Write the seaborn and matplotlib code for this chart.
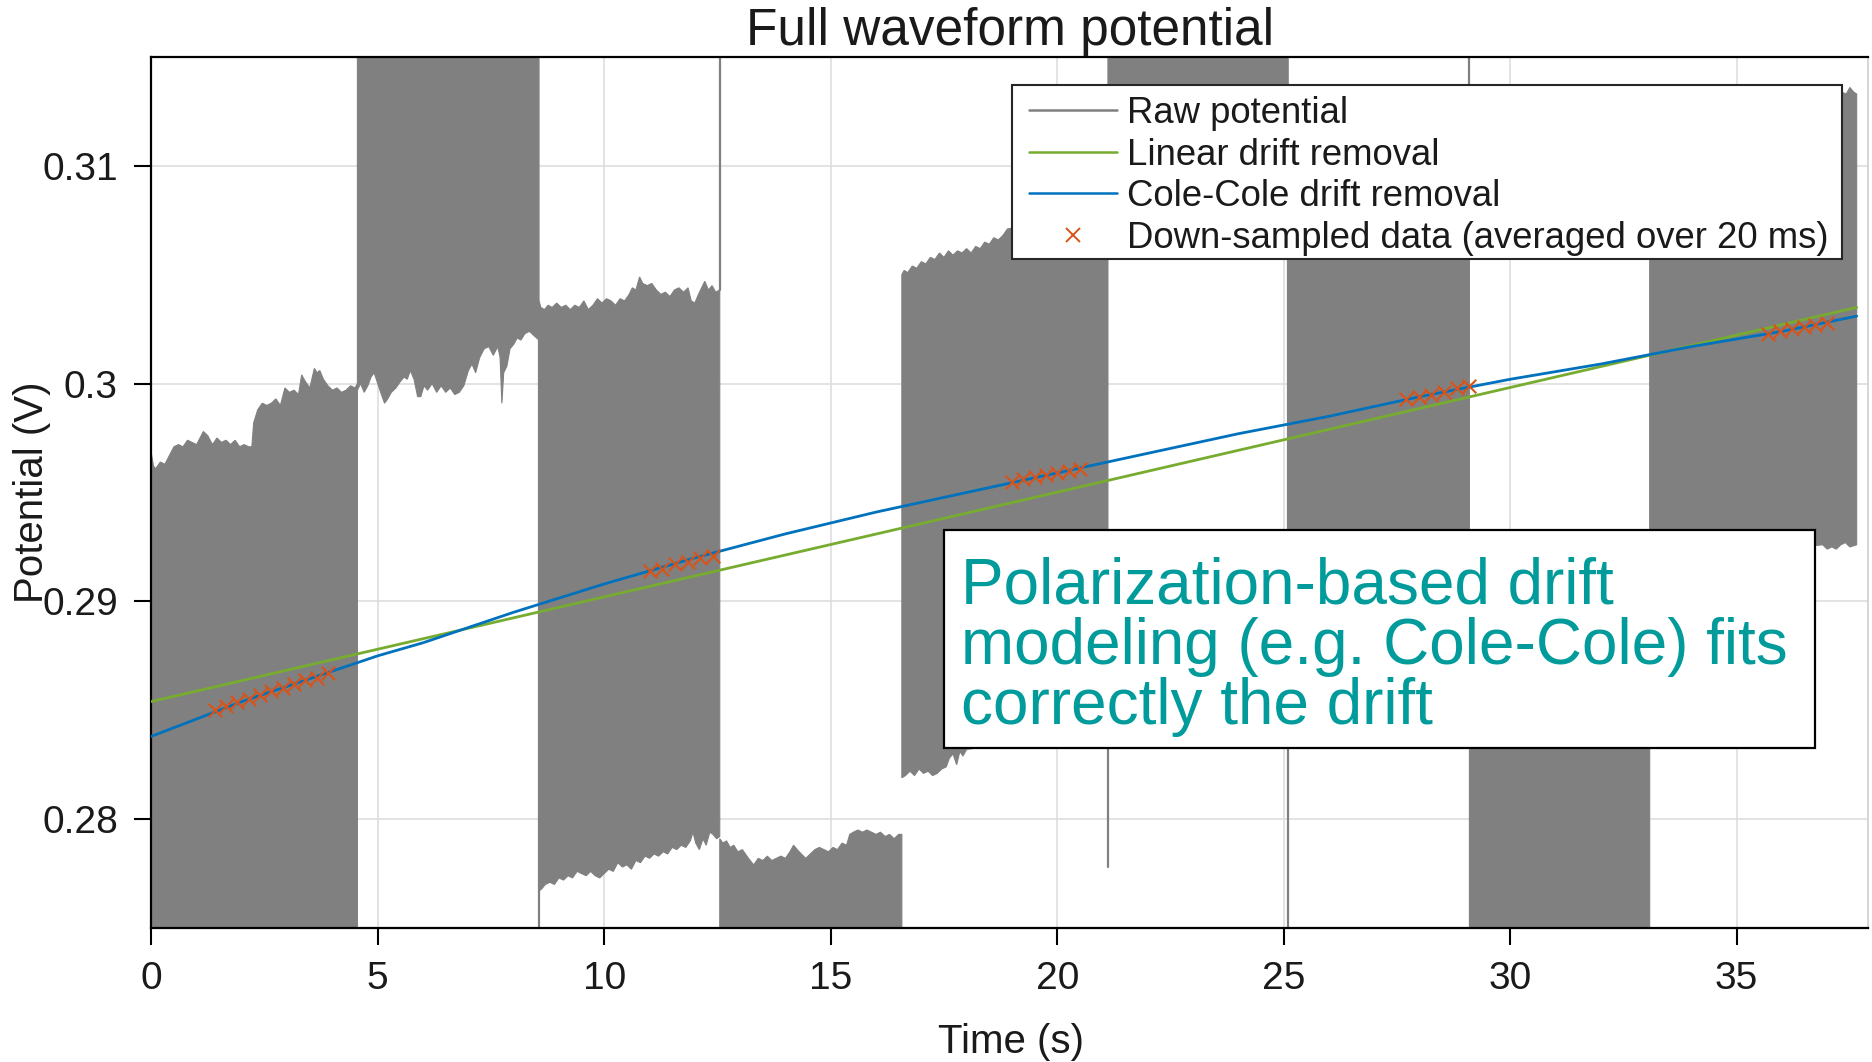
import numpy as np
import pandas as pd
import matplotlib
matplotlib.use("Agg")
import matplotlib.pyplot as plt
import seaborn as sns
from matplotlib.lines import Line2D
from matplotlib.patches import Rectangle

# ---------------- data ----------------
RAW_FLOOR = 0.27   # raw signal runs off the bottom of the scale
RAW_CEIL = 0.32    # raw signal runs off the top of the scale

# block A (0 - 4.55 s): from below the axis up to an envelope
rawA_t_hi = [0.00, 0.05, 0.10, 0.20, 0.30, 0.40, 0.50, 0.60, 0.70, 0.80, 0.90, 1.00, 1.10,
             1.15, 1.25, 1.35, 1.45, 1.55, 1.65, 1.75, 1.85, 1.95, 2.05, 2.15, 2.22, 2.26,
             2.35, 2.45, 2.55, 2.65, 2.75, 2.85, 2.95, 3.05, 3.15, 3.25, 3.32, 3.40, 3.50,
             3.60, 3.66, 3.72, 3.80, 3.90, 4.00, 4.10, 4.20, 4.30, 4.40, 4.50, 4.55]
rawA_hi = [0.2968, 0.2962, 0.2961, 0.2964, 0.2963, 0.2967, 0.2971, 0.2972, 0.2971, 0.2974,
           0.2973, 0.2972, 0.2976, 0.2978, 0.2976, 0.2972, 0.2975, 0.2973, 0.2974, 0.2972,
           0.2974, 0.2971, 0.2972, 0.2971, 0.2971, 0.2982, 0.2988, 0.2991, 0.2990, 0.2991,
           0.2993, 0.2990, 0.2998, 0.2996, 0.2997, 0.2995, 0.3004, 0.3001, 0.2998, 0.3007,
           0.3005, 0.3006, 0.3002, 0.2999, 0.2997, 0.2998, 0.2996, 0.2997, 0.2999, 0.2998,
           0.3000]
rawA_t_lo = [0.00, 4.55]
rawA_lo = [RAW_FLOOR, RAW_FLOOR]

# block B (4.55 - 8.56 s): from above the axis down to an envelope
rawB_t_hi = [4.55, 8.56]
rawB_hi = [RAW_CEIL, RAW_CEIL]
rawB_t_lo = [4.55, 4.62, 4.70, 4.78, 4.85, 4.92, 5.00, 5.08, 5.15, 5.22, 5.30, 5.40, 5.50,
             5.58, 5.65, 5.72, 5.80, 5.88, 5.95, 6.02, 6.10, 6.20, 6.30, 6.40, 6.50, 6.60,
             6.70, 6.80, 6.90, 7.00, 7.08, 7.16, 7.25, 7.35, 7.45, 7.55, 7.65, 7.70, 7.74,
             7.78, 7.85, 7.92, 8.00, 8.08, 8.16, 8.25, 8.35, 8.45, 8.56]
rawB_lo = [0.2997, 0.3000, 0.2996, 0.2999, 0.3003, 0.3005, 0.3000, 0.2995, 0.2991, 0.2993,
           0.2996, 0.2998, 0.3001, 0.3003, 0.3002, 0.3006, 0.3002, 0.2994, 0.2994, 0.2999,
           0.2997, 0.3000, 0.2996, 0.2999, 0.2996, 0.2998, 0.2995, 0.2996, 0.2999, 0.3006,
           0.3009, 0.3005, 0.3012, 0.3016, 0.3017, 0.3013, 0.3017, 0.3012, 0.2991, 0.3005,
           0.3008, 0.3016, 0.3018, 0.3021, 0.3020, 0.3023, 0.3024, 0.3022, 0.3020]

# block C (8.56 - 12.55 s): band
rawC_t_hi = [8.56, 8.60, 8.68, 8.76, 8.85, 8.95, 9.05, 9.15, 9.25, 9.35, 9.45, 9.55, 9.65,
             9.75, 9.85, 9.95, 10.05, 10.15, 10.25, 10.35, 10.45, 10.55, 10.62, 10.70, 10.78,
             10.85, 10.95, 11.05, 11.15, 11.25, 11.35, 11.45, 11.55, 11.65, 11.75, 11.85,
             11.92, 12.00, 12.08, 12.15, 12.22, 12.30, 12.38, 12.46, 12.55]
rawC_hi = [0.3038, 0.3035, 0.3034, 0.3036, 0.3035, 0.3037, 0.3035, 0.3036, 0.3034, 0.3036,
           0.3035, 0.3038, 0.3034, 0.3036, 0.3039, 0.3037, 0.3039, 0.3038, 0.3036, 0.3039,
           0.3038, 0.3041, 0.3044, 0.3043, 0.3049, 0.3046, 0.3045, 0.3046, 0.3043, 0.3041,
           0.3042, 0.3040, 0.3043, 0.3044, 0.3042, 0.3044, 0.3038, 0.3037, 0.3041, 0.3044,
           0.3047, 0.3043, 0.3045, 0.3042, 0.3043]
rawC_t_lo = [8.56, 8.62, 8.70, 8.80, 8.90, 9.00, 9.10, 9.20, 9.30, 9.40, 9.50, 9.60, 9.70,
             9.80, 9.90, 10.00, 10.10, 10.20, 10.30, 10.40, 10.50, 10.60, 10.70, 10.80, 10.90,
             11.00, 11.10, 11.20, 11.30, 11.40, 11.50, 11.60, 11.70, 11.80, 11.90, 11.96,
             12.02, 12.10, 12.18, 12.25, 12.33, 12.40, 12.48, 12.55]
rawC_lo = [0.2767, 0.2768, 0.2770, 0.2771, 0.2770, 0.2773, 0.2772, 0.2774, 0.2773, 0.2776,
           0.2775, 0.2774, 0.2776, 0.2774, 0.2773, 0.2775, 0.2777, 0.2776, 0.2780, 0.2778,
           0.2779, 0.2777, 0.2781, 0.2780, 0.2783, 0.2782, 0.2784, 0.2783, 0.2785, 0.2784,
           0.2787, 0.2786, 0.2788, 0.2787, 0.2790, 0.2794, 0.2789, 0.2786, 0.2791, 0.2788,
           0.2794, 0.2793, 0.2791, 0.2792]

# block D (12.55 - 16.57 s): from below the axis up to an envelope
rawD_t_hi = [12.55, 12.62, 12.70, 12.78, 12.86, 12.95, 13.05, 13.15, 13.22, 13.30, 13.40,
             13.50, 13.60, 13.70, 13.80, 13.90, 14.00, 14.10, 14.18, 14.26, 14.35, 14.45,
             14.55, 14.65, 14.75, 14.85, 14.95, 15.05, 15.15, 15.25, 15.35, 15.42, 15.50,
             15.60, 15.70, 15.80, 15.90, 16.00, 16.10, 16.20, 16.30, 16.40, 16.50, 16.57]
rawD_hi = [0.2791, 0.2789, 0.2790, 0.2787, 0.2788, 0.2785, 0.2786, 0.2783, 0.2781, 0.2779,
           0.2782, 0.2781, 0.2783, 0.2781, 0.2782, 0.2783, 0.2782, 0.2785, 0.2788, 0.2786,
           0.2784, 0.2782, 0.2784, 0.2786, 0.2787, 0.2786, 0.2785, 0.2787, 0.2786, 0.2789,
           0.2788, 0.2793, 0.2794, 0.2795, 0.2794, 0.2795, 0.2794, 0.2793, 0.2794, 0.2792,
           0.2793, 0.2791, 0.2793, 0.2793]
rawD_t_lo = [12.55, 16.57]
rawD_lo = [RAW_FLOOR, RAW_FLOOR]

# block E (16.57 - 21.12 s): band
rawE_t_hi = [16.57, 16.62, 16.70, 16.80, 16.90, 17.00, 17.10, 17.20, 17.30, 17.40, 17.50,
             17.60, 17.70, 17.80, 17.90, 18.00, 18.10, 18.20, 18.30, 18.40, 18.50, 18.60,
             18.70, 18.80, 18.90, 19.60, 20.30, 21.12]
rawE_hi = [0.3050, 0.3052, 0.3051, 0.3054, 0.3053, 0.3056, 0.3055, 0.3058, 0.3057, 0.3060,
           0.3058, 0.3061, 0.3059, 0.3061, 0.3060, 0.3062, 0.3060, 0.3063, 0.3062, 0.3065,
           0.3064, 0.3067, 0.3066, 0.3068, 0.3071, 0.3074, 0.3078, 0.3082]
rawE_t_lo = [16.57, 16.65, 16.75, 16.85, 16.95, 17.05, 17.15, 17.25, 17.35, 17.45, 17.55,
             17.62, 17.70, 17.78, 17.85, 17.92, 18.00, 19.00, 20.00, 21.12]
rawE_lo = [0.2819, 0.2820, 0.2822, 0.2820, 0.2823, 0.2821, 0.2822, 0.2820, 0.2821, 0.2823,
           0.2824, 0.2828, 0.2830, 0.2825, 0.2831, 0.2829, 0.2832, 0.2835, 0.2838, 0.2841]

# block F (21.12 - 25.10 s): from above the axis down to an envelope
rawF_t_hi = [21.12, 25.10]
rawF_hi = [RAW_CEIL, RAW_CEIL]
rawF_t_lo = [21.12, 25.10]
rawF_lo = [0.3085, 0.3095]

# block G (25.10 - 29.10 s): band
rawG_t_hi = [25.10, 29.10]
rawG_hi = [0.3105, 0.3115]
rawG_t_lo = [25.10, 29.10]
rawG_lo = [0.2875, 0.2885]

# block H (29.10 - 33.08 s): from below the axis up to an envelope
rawH_t_hi = [29.10, 33.08]
rawH_hi = [0.2890, 0.2900]
rawH_t_lo = [29.10, 33.08]
rawH_lo = [RAW_FLOOR, RAW_FLOOR]

# block I (33.08 - 37.65 s): band
rawI_t_hi = [33.08, 36.00, 37.30, 37.42, 37.50, 37.58, 37.65]
rawI_hi = [0.3128, 0.3132, 0.3134, 0.3133, 0.3136, 0.3134, 0.3133]
rawI_t_lo = [33.08, 36.00, 36.90, 37.00, 37.10, 37.20, 37.30, 37.40, 37.50, 37.65]
rawI_lo = [0.2925, 0.2924, 0.2926, 0.2924, 0.2925, 0.2924, 0.2926, 0.2927, 0.2925, 0.2926]

# switching spikes of the raw signal
spike_t = [8.56, 12.55, 21.12, 25.10, 29.10]
spike_lo = [RAW_FLOOR, 0.3043, 0.2778, RAW_FLOOR, 0.3110]
spike_hi = [0.3020, RAW_CEIL, 0.2841, 0.3095, RAW_CEIL]

# linear drift model
lin_t = [0.0, 37.65]
lin_v = [0.2854, 0.3035]

# Cole-Cole drift model
cc_t = [0, 1, 2, 3, 4, 5, 6, 7, 8, 10, 12, 14, 16, 18, 20, 22, 24, 26, 28, 30, 32, 34, 36, 37.65]
cc_v = [0.2838, 0.2846, 0.2854, 0.2861, 0.2868, 0.2875, 0.2881, 0.2888, 0.2895, 0.2908,
        0.2920, 0.2931, 0.2941, 0.2950, 0.2959, 0.2968, 0.2977, 0.2985, 0.2994, 0.3002,
        0.3009, 0.3017, 0.3024, 0.3031]

# down-sampled data
ds_t = [1.40, 1.65, 1.90, 2.15, 2.40, 2.65, 2.90, 3.15, 3.40, 3.65, 3.90,
        11.00, 11.28, 11.56, 11.84, 12.12, 12.40,
        19.00, 19.25, 19.50, 19.75, 20.00, 20.25, 20.50,
        27.70, 27.98, 28.26, 28.54, 28.82, 29.10,
        35.70, 35.96, 36.22, 36.48, 36.74, 37.00]
ds_v = [0.2850, 0.2852, 0.2854, 0.2855, 0.2857, 0.2859, 0.2860, 0.2862, 0.2864, 0.2865, 0.2867,
        0.2914, 0.2915, 0.2917, 0.2918, 0.2920, 0.2921,
        0.2955, 0.2956, 0.2957, 0.2958, 0.2959, 0.2960, 0.2961,
        0.2993, 0.2994, 0.2995, 0.2996, 0.2998, 0.2999,
        0.3023, 0.3024, 0.3025, 0.3026, 0.3027, 0.3028]

x_ticks = [0, 5, 10, 15, 20, 25, 30, 35]
y_ticks = [0.28, 0.29, 0.30, 0.31]
y_tick_labels = ["0.28", "0.29", "0.3", "0.31"]
legend_labels = ["Raw potential", "Linear drift removal", "Cole-Cole drift removal",
                 "Down-sampled data (averaged over 20 ms)"]
note_text = "Polarization-based drift\nmodeling (e.g. Cole-Cole) fits\ncorrectly the drift"

# ---------------- style ----------------
GRAY = "#808080"
GREEN = "#77AC30"
BLUE = "#0072BD"
ORANGE = "#D95319"
TEAL = "#009B9A"
TXT = "#1a1a1a"

sns.set_theme(style="white")
plt.rcParams["font.family"] = ["Liberation Sans", "DejaVu Sans"]

W, H = 1872, 1062
AX_L, AX_R, AX_T, AX_B = 151.3, 1868.0, 57.0, 928.0


def ax_x(px):
    return (px - AX_L) / (AX_R - AX_L)


def ax_y(py):
    return (AX_B - py) / (AX_B - AX_T)


fig = plt.figure(figsize=(W / 100, H / 100), dpi=100)
fig.patch.set_facecolor("white")
ax = fig.add_axes([AX_L / W, (H - AX_B) / H, (AX_R - AX_L) / W, (AX_B - AX_T) / H])
ax.set_facecolor("white")

# raw potential blocks
blocks = [
    (rawA_t_hi, rawA_hi, rawA_t_lo, rawA_lo),
    (rawB_t_hi, rawB_hi, rawB_t_lo, rawB_lo),
    (rawC_t_hi, rawC_hi, rawC_t_lo, rawC_lo),
    (rawD_t_hi, rawD_hi, rawD_t_lo, rawD_lo),
    (rawE_t_hi, rawE_hi, rawE_t_lo, rawE_lo),
    (rawF_t_hi, rawF_hi, rawF_t_lo, rawF_lo),
    (rawG_t_hi, rawG_hi, rawG_t_lo, rawG_lo),
    (rawH_t_hi, rawH_hi, rawH_t_lo, rawH_lo),
    (rawI_t_hi, rawI_hi, rawI_t_lo, rawI_lo),
]
for th, vh, tl, vl in blocks:
    xs = list(th) + list(tl)[::-1]
    ys = list(vh) + list(vl)[::-1]
    ax.fill(xs, ys, color=GRAY, lw=0.8, ec=GRAY, zorder=2)

for t, lo, hi in zip(spike_t, spike_lo, spike_hi):
    ax.plot([t, t], [lo, hi], color=GRAY, lw=1.6, zorder=2)

sns.lineplot(x=lin_t, y=lin_v, ax=ax, color=GREEN, lw=2.0, zorder=4)
sns.lineplot(x=cc_t, y=cc_v, ax=ax, color=BLUE, lw=2.0, zorder=5)
sns.scatterplot(x=ds_t, y=ds_v, ax=ax, marker="x", color=ORANGE, s=95, linewidth=1.5, zorder=6)

ax.set_xlim(0, 37.9)
ax.set_ylim(0.275, 0.315)
ax.set_xticks(x_ticks)
ax.set_xticklabels([str(v) for v in x_ticks])
ax.set_yticks(y_ticks)
ax.set_yticklabels(y_tick_labels)
ax.grid(True, color="#dedede", lw=1.2)
ax.set_axisbelow(True)

ax.tick_params(axis="both", which="major", bottom=True, left=True, direction="out",
               length=12, width=1.5, color="black", labelsize=28, labelcolor=TXT)
ax.tick_params(axis="x", pad=12)
ax.tick_params(axis="y", pad=12)

for side in ["left", "bottom", "top"]:
    ax.spines[side].set_color("black")
    ax.spines[side].set_linewidth(1.6)
ax.spines["right"].set_color("#d0d0d0")
ax.spines["right"].set_linewidth(1.2)

ax.set_xlabel("Time (s)", fontsize=29, color=TXT, va="center")
ax.xaxis.set_label_coords(0.5005, ax_y(1042))
ax.set_ylabel("Potential (V)", fontsize=29, color=TXT, va="center")
ax.yaxis.set_label_coords(ax_x(32), 0.5)
ax.set_title("Full waveform potential", fontsize=37, color=TXT, y=ax_y(31), va="center", pad=0)

# legend: frame drawn at the reference position, entries placed inside it
leg_frame = Rectangle((ax_x(1012), ax_y(259)), ax_x(1842) - ax_x(1012), ax_y(85) - ax_y(259),
                      transform=ax.transAxes, facecolor="white", edgecolor="#262626", lw=1.5,
                      zorder=9, clip_on=False)
ax.add_patch(leg_frame)
handles = [
    Line2D([], [], color=GRAY, lw=1.8),
    Line2D([], [], color=GREEN, lw=1.8),
    Line2D([], [], color=BLUE, lw=1.8),
    Line2D([], [], ls="none", marker="x", color=ORANGE, ms=10, mew=1.4),
]
leg = ax.legend(handles, legend_labels, loc="upper left",
                bbox_to_anchor=(ax_x(1029), ax_y(96)), fontsize=26.3, frameon=False,
                borderpad=0, labelspacing=0.18, handlelength=2.4, handletextpad=0.28,
                borderaxespad=0)
leg.set_zorder(10)
for t in leg.get_texts():
    t.set_color(TXT)

box = Rectangle((ax_x(944), ax_y(748)), ax_x(1815) - ax_x(944), ax_y(530) - ax_y(748),
                transform=ax.transAxes, facecolor="white", edgecolor="black", lw=1.6,
                zorder=11, clip_on=False)
ax.add_patch(box)
ax.text(ax_x(961), ax_y(557), note_text, transform=ax.transAxes, ha="left", va="top",
        fontsize=46, color=TEAL, linespacing=1.0, zorder=12)

fig.savefig("out.png", dpi=100, facecolor="white")
